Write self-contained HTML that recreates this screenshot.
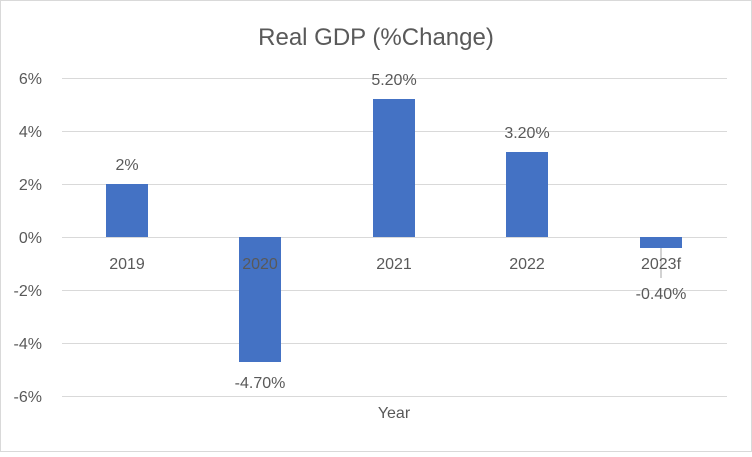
<!DOCTYPE html>
<html><head><style>
body{margin:0;background:#fff}
svg text{font-family:"Liberation Sans",sans-serif;fill:#595959}
</style></head><body>
<svg width="752" height="452" viewBox="0 0 752 452" xmlns="http://www.w3.org/2000/svg">
<rect x="0.5" y="0.5" width="751" height="451" fill="#fff" stroke="#d9d9d9"/>
<text x="376" y="45" font-size="24" text-anchor="middle">Real GDP (%Change)</text>
<g stroke="#d9d9d9" stroke-width="1">
<line x1="62" x2="727" y1="78.5" y2="78.5"/>
<line x1="62" x2="727" y1="131.5" y2="131.5"/>
<line x1="62" x2="727" y1="184.5" y2="184.5"/>
<line x1="62" x2="727" y1="237.5" y2="237.5"/>
<line x1="62" x2="727" y1="290.5" y2="290.5"/>
<line x1="62" x2="727" y1="343.5" y2="343.5"/>
<line x1="62" x2="727" y1="396.5" y2="396.5"/>
</g>
<g font-size="16" text-anchor="end">
<text x="42" y="84">6%</text>
<text x="42" y="137">4%</text>
<text x="42" y="190">2%</text>
<text x="42" y="243">0%</text>
<text x="42" y="296">-2%</text>
<text x="42" y="349">-4%</text>
<text x="42" y="402">-6%</text>
</g>
<g fill="#4472c4">
<rect x="106" y="184" width="42" height="53"/>
<rect x="239" y="237" width="42" height="125"/>
<rect x="373" y="99" width="42" height="138"/>
<rect x="506" y="152" width="42" height="85"/>
<rect x="640" y="237" width="42" height="11"/>
</g>
<line x1="661" x2="661" y1="248" y2="278" stroke="#a6a6a6"/>
<g font-size="16" text-anchor="middle">
<text x="127" y="269">2019</text>
<text x="260" y="269">2020</text>
<text x="394" y="269">2021</text>
<text x="527" y="269">2022</text>
<text x="661" y="269">2023f</text>
<text x="127" y="170">2%</text>
<text x="260" y="388">-4.70%</text>
<text x="394" y="85">5.20%</text>
<text x="527" y="138">3.20%</text>
<text x="661" y="299">-0.40%</text>
<text x="394" y="418">Year</text>
</g>
</svg>
</body></html>
